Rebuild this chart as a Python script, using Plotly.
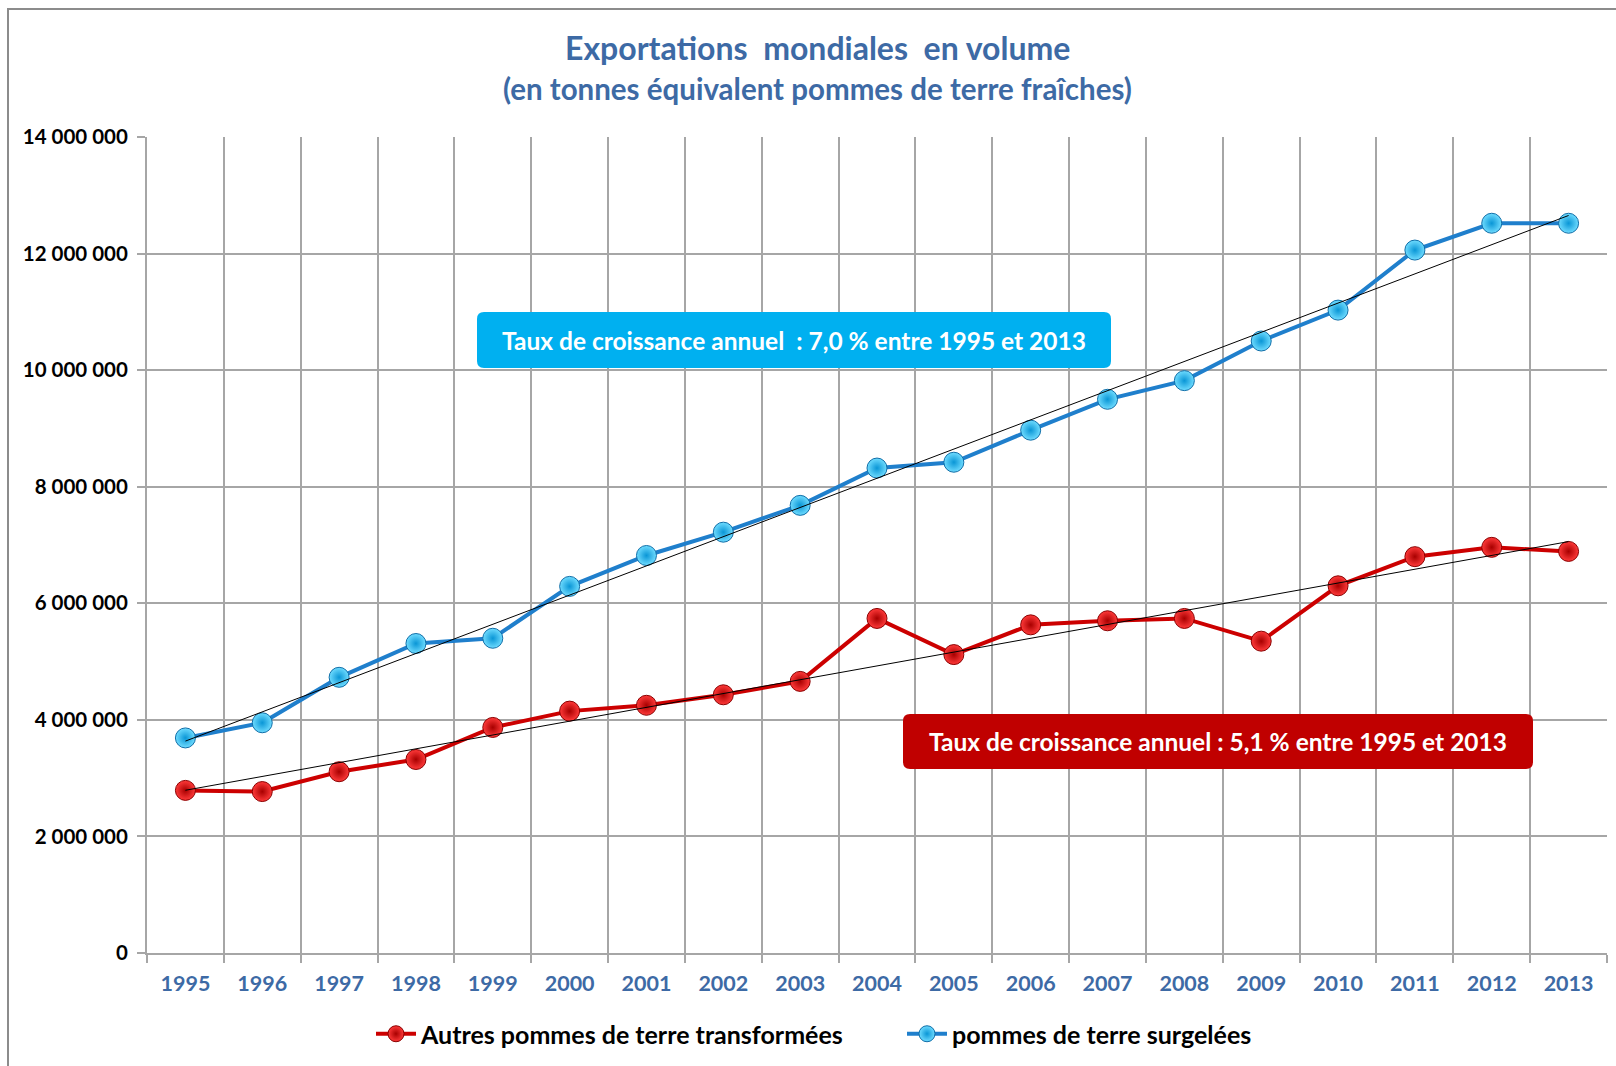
import numpy as np
import plotly.graph_objects as go

# ---------------- data ----------------
years = ["1995", "1996", "1997", "1998", "1999", "2000", "2001", "2002", "2003", "2004",
         "2005", "2006", "2007", "2008", "2009", "2010", "2011", "2012", "2013"]
surgelees = [3690000, 3950000, 4730000, 5310000, 5400000, 6290000, 6820000, 7220000, 7680000, 8320000,
             8420000, 8970000, 9500000, 9820000, 10500000, 11030000, 12060000, 12520000, 12520000]
autres = [2790000, 2770000, 3110000, 3320000, 3870000, 4150000, 4250000, 4430000, 4660000, 5740000,
          5120000, 5630000, 5700000, 5740000, 5350000, 6300000, 6800000, 6960000, 6890000]
y_ticks = [0, 2000000, 4000000, 6000000, 8000000, 10000000, 12000000, 14000000]

name_autres = "Autres pommes de terre transformées"
name_surg = "pommes de terre surgelées"
title1 = "Exportations\u00a0 mondiales\u00a0 en volume"
title2 = "(en tonnes équivalent pommes de terre fraîches)"
label_blue = "Taux de croissance annuel\u00a0 : 7,0 % entre 1995 et 2013"
label_red = "Taux de croissance annuel : 5,1 % entre 1995 et 2013"

# ---------------- layout geometry ----------------
W, H = 1616, 1066
ML, MR, MT, MB = 147, 9, 137, 113
PW, PH = W - ML - MR, H - MT - MB


def px(x):
    return (x - ML) / PW


def py(y):
    return (H - MB - y) / PH


FONT = "Lato"
BLUE_TXT = "#3d6aa5"

# linear trend lines (least squares, as Excel's trendline)
idx = np.arange(len(years))
tb = np.polyval(np.polyfit(idx, surgelees, 1), idx)
tr = np.polyval(np.polyfit(idx, autres, 1), idx)

fig = go.Figure()

fig.add_trace(go.Scatter(
    x=years, y=autres, name=f"<b>{name_autres}</b>", mode="lines+markers",
    line=dict(color="#cc0000", width=4),
    marker=dict(size=20, color="#ff3a3a", line=dict(color="#8a0000", width=1),
                gradient=dict(type="radial", color="#a80000")),
))
fig.add_trace(go.Scatter(
    x=years, y=surgelees, name=f"<b>{name_surg}</b>", mode="lines+markers",
    line=dict(color="#1f7fcc", width=4),
    marker=dict(size=20, color="#6fdcff", line=dict(color="#0f6ea8", width=1),
                gradient=dict(type="radial", color="#0a96d6")),
))
fig.add_trace(go.Scatter(x=years, y=tr, mode="lines", line=dict(color="black", width=1),
                         showlegend=False, hoverinfo="skip"))
fig.add_trace(go.Scatter(x=years, y=tb, mode="lines", line=dict(color="black", width=1),
                         showlegend=False, hoverinfo="skip"))


def rounded_rect(x0, y0, x1, y1, r):
    # pixel coords -> paper path
    pts = []
    pts.append(f"M{px(x0 + r)},{py(y0)}")
    pts.append(f"L{px(x1 - r)},{py(y0)}")
    pts.append(f"Q{px(x1)},{py(y0)} {px(x1)},{py(y0 + r)}")
    pts.append(f"L{px(x1)},{py(y1 - r)}")
    pts.append(f"Q{px(x1)},{py(y1)} {px(x1 - r)},{py(y1)}")
    pts.append(f"L{px(x0 + r)},{py(y1)}")
    pts.append(f"Q{px(x0)},{py(y1)} {px(x0)},{py(y1 - r)}")
    pts.append(f"L{px(x0)},{py(y0 + r)}")
    pts.append(f"Q{px(x0)},{py(y0)} {px(x0 + r)},{py(y0)}")
    pts.append("Z")
    return " ".join(pts)


shapes = [
    # chart frame
    dict(type="rect", xref="paper", yref="paper", x0=px(8), x1=px(W + 20), y0=py(H + 20), y1=py(9),
         line=dict(color="#8c8c8c", width=2), fillcolor="rgba(0,0,0,0)", layer="below"),
    dict(type="path", xref="paper", yref="paper", path=rounded_rect(477, 312, 1111, 368, 7),
         fillcolor="#00b0f0", line=dict(width=0), layer="above"),
    dict(type="path", xref="paper", yref="paper", path=rounded_rect(903, 714, 1533, 769, 7),
         fillcolor="#c00000", line=dict(width=0), layer="above"),
]

annotations = [
    dict(text=f"<b>{title1}</b>", xref="paper", yref="paper", x=px(817), y=py(48),
         xanchor="center", yanchor="middle", showarrow=False,
         font=dict(family=FONT, size=32, color=BLUE_TXT)),
    dict(text=f"<b>{title2}</b>", xref="paper", yref="paper", x=px(817), y=py(89),
         xanchor="center", yanchor="middle", showarrow=False,
         font=dict(family=FONT, size=29.5, color=BLUE_TXT)),
    dict(text=f"<b>{label_blue}</b>", xref="paper", yref="paper", x=px(794), y=py(340),
         xanchor="center", yanchor="middle", showarrow=False,
         font=dict(family=FONT, size=24.5, color="white")),
    dict(text=f"<b>{label_red}</b>", xref="paper", yref="paper", x=px(1218), y=py(741),
         xanchor="center", yanchor="middle", showarrow=False,
         font=dict(family=FONT, size=24.5, color="white")),
]

fig.update_layout(
    width=W, height=H,
    margin=dict(l=ML, r=MR, t=MT, b=MB),
    paper_bgcolor="white", plot_bgcolor="white",
    separators=", ",
    showlegend=True,
    legend=dict(orientation="h", x=px(371), y=py(1034), xanchor="left", yanchor="middle",
                font=dict(family=FONT, size=25, color="black"), entrywidth=476,
                bgcolor="rgba(0,0,0,0)", itemwidth=40),
    shapes=shapes,
    annotations=annotations,
    xaxis=dict(type="category", tickson="boundaries", showgrid=True, gridcolor="#a6a6a6", gridwidth=2,
               showline=True, linecolor="#a6a6a6", linewidth=2, mirror=False,
               ticks="outside", ticklen=8, tickcolor="#a6a6a6", tickwidth=2,
               ticklabelstandoff=10,
               tickfont=dict(family=FONT, size=21.5, color=BLUE_TXT, weight="bold"),
               range=[-0.5, 18.5], fixedrange=True),
    yaxis=dict(range=[0, 14000000], tickvals=y_ticks, tickformat=",d",
               showgrid=True, gridcolor="#a6a6a6", gridwidth=2,
               showline=True, linecolor="#a6a6a6", linewidth=2, zeroline=False,
               ticks="outside", ticklen=8, tickcolor="#a6a6a6", tickwidth=2,
               ticklabelstandoff=5,
               tickfont=dict(family=FONT, size=20.5, color="black", weight="bold"), fixedrange=True),
)

fig.write_html("out.html", config={"displayModeBar": False},
               post_script="document.body.style.margin='0';document.body.style.overflow='hidden';")
